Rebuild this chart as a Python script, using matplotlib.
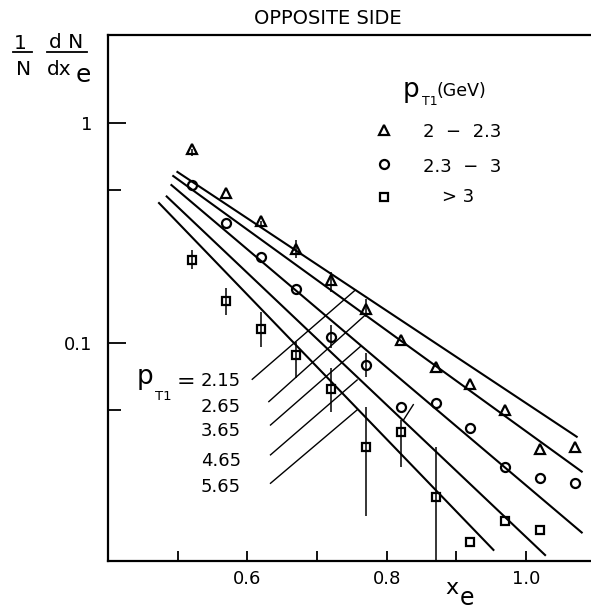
import matplotlib
matplotlib.use("Agg")
import matplotlib.pyplot as plt
from matplotlib.lines import Line2D
from matplotlib.ticker import FixedLocator, NullFormatter

W, H = 591, 612

# x_e bin centres
xe = [0.52, 0.57, 0.62, 0.67, 0.72, 0.77, 0.82, 0.87, 0.92, 0.97, 1.02, 1.07]
# 1/N dN/dx_e for the three p_T1 bins
tri = [0.764, 0.483, 0.361, 0.268, 0.194, 0.143, 0.1035, 0.0778, 0.0653, 0.0498, 0.0331, 0.0337]
circ = [0.524, 0.353, 0.246, 0.176, 0.107, 0.0797, 0.0512, 0.0534, 0.0411, 0.0273, 0.0245, 0.0232]
sq_x = [0.52, 0.57, 0.62, 0.67, 0.72, 0.77, 0.82, 0.87, 0.92, 0.97, 1.02]
sq = [0.239, 0.155, 0.116, 0.0885, 0.0618, 0.0337, 0.0397, 0.0201, 0.01253, 0.01557, 0.01417]

# error bars (x, low, high)
tri_err_x = [0.52, 0.62, 0.67, 0.72, 0.77]
tri_err_lo = [0.710, 0.338, 0.244, 0.1716, 0.1318]
tri_err_hi = [0.764, 0.361, 0.2947, 0.2116, 0.159]
circ_err_x = [0.72, 0.77]
circ_err_lo = [0.0949, 0.0705]
circ_err_hi = [0.121, 0.090]
sq_err_x = [0.52, 0.57, 0.62, 0.67, 0.72, 0.77, 0.82, 0.87]
sq_err_lo = [0.2177, 0.1345, 0.0965, 0.0696, 0.0487, 0.0164, 0.0274, 0.005]
sq_err_hi = [0.266, 0.1784, 0.1392, 0.1014, 0.0772, 0.0513, 0.0448, 0.0339]

# model lines for each p_T1 (end points)
pt1 = ['2.15', '2.65', '3.65', '4.65', '5.65']
fit_x0 = [0.4996, 0.4936, 0.491, 0.4842, 0.4732]
fit_y0 = [0.601, 0.576, 0.524, 0.465, 0.434]
fit_x1 = [1.0726, 1.0798, 1.0798, 1.0272, 0.9531]
fit_y1 = [0.0376, 0.0261, 0.0138, 0.0109, 0.0115]
# leader lines from the p_T1 labels to the model lines
lead_x0 = [0.607, 0.6308, 0.6332, 0.6332, 0.6332]
lead_y0 = [0.0686, 0.0543, 0.0425, 0.0311, 0.0231]
lead_x1 = [0.755, 0.7693, 0.7622, 0.7575, 0.7575]
lead_y1 = [0.1747, 0.1345, 0.0967, 0.0681, 0.0498]
# short stray stroke near x_e = 0.82
stray_x = [0.8238, 0.8381]
stray_y = [0.0447, 0.0526]

legend_labels = ['2  \u2212  2.3', '2.3  \u2212  3', '> 3']


def fx(px):
    return px / W


def fy(py):
    return 1 - py / H


def ftext(px, py, s, **kw):
    kw.setdefault('ha', 'left')
    kw.setdefault('va', 'baseline')
    fig.text(fx(px), fy(py), s, color='black', **kw)


def fline(x0, x1, py, lw=1.3):
    fig.add_artist(Line2D([fx(x0), fx(x1)], [fy(py), fy(py)],
                          transform=fig.transFigure, color='black', lw=lw))


fig = plt.figure(figsize=(W / 100, H / 100), dpi=100)
ax = fig.add_axes([fx(108), fy(561), (W - 108) / W, (561 - 35) / H])
ax.set_yscale('log')

mk = dict(ls='none', mfc='none', mec='black', mew=1.6, zorder=3)
ax.plot(xe, tri, marker='^', ms=7.5, **mk)
ax.plot(xe, circ, marker='o', ms=6.5, **mk)
ax.plot(sq_x, sq, marker='s', ms=6, **mk)

ax.vlines(tri_err_x, tri_err_lo, tri_err_hi, colors='black', lw=1.1)
ax.vlines(circ_err_x, circ_err_lo, circ_err_hi, colors='black', lw=1.1)
ax.vlines(sq_err_x, sq_err_lo, sq_err_hi, colors='black', lw=1.1)

for i in range(len(pt1)):
    ax.plot([fit_x0[i], fit_x1[i]], [fit_y0[i], fit_y1[i]], color='black', lw=1.5)
    ax.plot([lead_x0[i], lead_x1[i]], [lead_y0[i], lead_y1[i]], color='black', lw=1.0)
ax.plot(stray_x, stray_y, color='black', lw=1.0)

ax.set_xlim(0.40, 1.0931)
ax.set_ylim(0.01024, 2.52)

ax.spines['right'].set_visible(False)
for s in ['left', 'bottom', 'top']:
    ax.spines[s].set_linewidth(1.6)

ax.set_xticks([0.5, 0.6, 0.7, 0.8, 0.9, 1.0])
ax.set_xticklabels(['', '0.6', '', '0.8', '', '1.0'])
ax.tick_params(axis='x', direction='in', length=7, width=1.3, pad=6.5, labelsize=13)
ax.yaxis.set_major_locator(FixedLocator([0.1, 1]))
ax.set_yticklabels(['0.1', '1'])
ax.yaxis.set_minor_locator(FixedLocator([0.05, 0.5]))
ax.yaxis.set_minor_formatter(NullFormatter())
ax.tick_params(axis='y', which='major', direction='in', length=13, width=1.3, pad=11, labelsize=13)
ax.tick_params(axis='y', which='minor', direction='in', length=9, width=1.3)

# title
fig.text(fx(328), fy(19), 'OPPOSITE SIDE', fontsize=14, ha='center', va='center')

# y axis label: 1/N dN/dx_e
ftext(20, 49, '1', fontsize=14.5, ha='center')
fline(13, 32, 52)
ftext(23.5, 75, 'N', fontsize=14.5, ha='center')
ftext(66, 48, 'd N', fontsize=14.5, ha='center')
fline(47, 87, 52)
ftext(47, 75, 'dx', fontsize=14.5)
ftext(76, 82, 'e', fontsize=18)

# x axis label
ftext(445, 594, 'x', fontsize=16)
ftext(460, 605, 'e', fontsize=17)

# p_T1 labels for the model lines
ftext(137, 384, 'p', fontsize=19)
ftext(155, 400, 'T1', fontsize=9.5)
ftext(177, 388, '=', fontsize=16)
label_base = [386.5, 411.5, 436, 466, 492.5]
for i in range(len(pt1)):
    ftext(201, label_base[i], pt1[i], fontsize=13)

# legend
ftext(403, 97, 'p', fontsize=19)
ftext(422, 105, 'T1', fontsize=9)
ftext(436, 95.5, '(GeV)', fontsize=12.5)
leg_marks = [('^', 7.5), ('o', 6.5), ('s', 6)]
leg_y = [130, 164.3, 196.7]
leg_text_x = [423, 423, 441.7]
leg_base = [136.7, 171.7, 202.3]
for (m, ms), y, tx, tb, lab in zip(leg_marks, leg_y, leg_text_x, leg_base, legend_labels):
    fig.add_artist(Line2D([fx(384.3)], [fy(y)], transform=fig.transFigure, marker=m, ms=ms,
                          mfc='none', mec='black', mew=1.6, ls='none'))
    ftext(tx, tb, lab, fontsize=13)

fig.savefig('out.png', dpi=100)
